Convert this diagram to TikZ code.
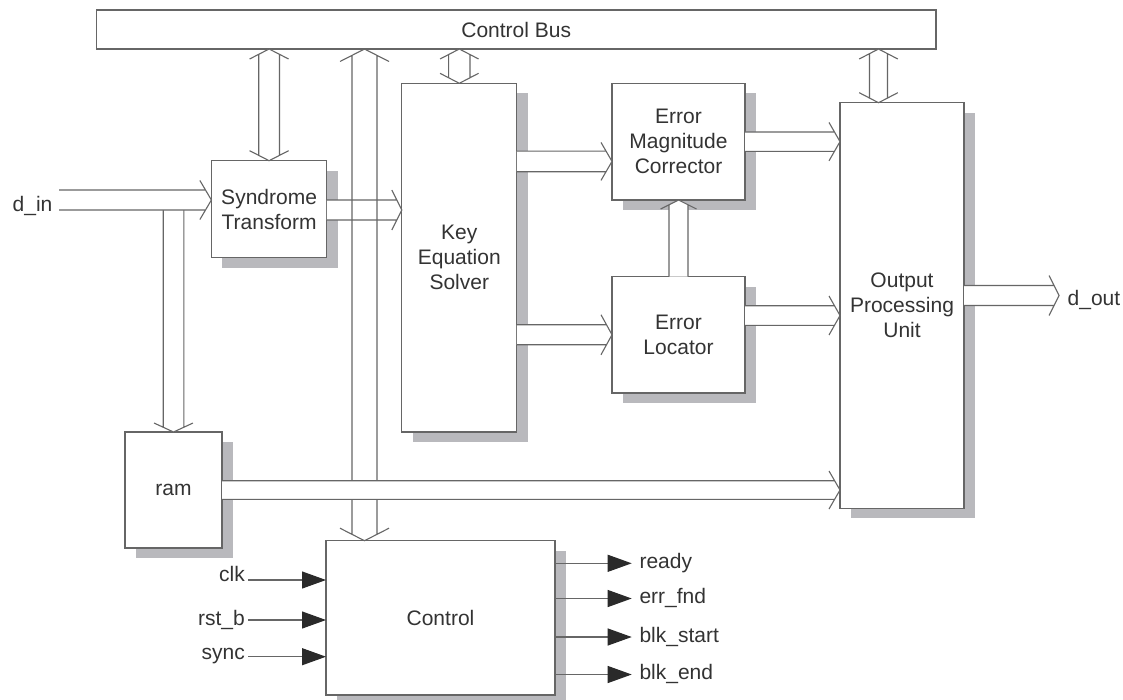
\documentclass[tikz,border=0pt]{standalone}
\usepackage{fontspec}
\setmainfont{Liberation Sans}
\usetikzlibrary{calc,shadows,arrows.meta}
\definecolor{ln}{HTML}{666666}
\definecolor{tx}{HTML}{333333}
\definecolor{sh}{HTML}{B9B9BD}
\definecolor{tri}{HTML}{2A2A2A}
% horizontal fat arrow pointing right: #2 start (x), #3 tip; #4 shaft half, #5 head half, #6 head length
\newcommand{\fatR}[6][fill=white]{%
  \path[#1] let \p1=(#2), \p2=(#3), \n1={#6*#4/#5} in
    (\x1,\y2+#4) -- (\x2-\n1,\y2+#4) -- (\x2,\y2) -- (\x2-\n1,\y2-#4) -- (\x1,\y2-#4) -- cycle;
  \draw[fatline] let \p1=(#2), \p2=(#3), \n1={#6*#4/#5} in
    (\x1,\y2+#4) -- (\x2-\n1,\y2+#4)
    (\x2-#6,\y2+#5) -- (\x2,\y2) -- (\x2-#6,\y2-#5)
    (\x2-\n1,\y2-#4) -- (\x1,\y2-#4);
}
% vertical double-headed fat arrow: #2 top tip (x taken from it), #3 bottom tip
\newcommand{\fatV}[6][fill=white]{%
  \path[#1] let \p1=(#2), \p2=(#3), \n1={#6*#4/#5} in
    (\x1,\y1) -- (\x1+#4,\y1-\n1) -- (\x1+#4,\y2+\n1) -- (\x1,\y2) -- (\x1-#4,\y2+\n1) -- (\x1-#4,\y1-\n1) -- cycle;
  \draw[fatline] let \p1=(#2), \p2=(#3), \n1={#6*#4/#5} in
    (\x1-#5,\y1-#6) -- (\x1,\y1) -- (\x1+#5,\y1-#6)
    (\x1+#4,\y1-\n1) -- (\x1+#4,\y2+\n1)
    (\x1-#5,\y2+#6) -- (\x1,\y2) -- (\x1+#5,\y2+#6)
    (\x1-#4,\y2+\n1) -- (\x1-#4,\y1-\n1);
}
% vertical single fat arrow pointing down: #2 start (top), #3 tip (x from tip)
\newcommand{\fatD}[6][fill=white]{%
  \path[#1] let \p1=(#2), \p2=(#3), \n1={#6*#4/#5} in
    (\x2-#4,\y1) -- (\x2+#4,\y1) -- (\x2+#4,\y2+\n1) -- (\x2,\y2) -- (\x2-#4,\y2+\n1) -- cycle;
  \draw[fatline] let \p1=(#2), \p2=(#3), \n1={#6*#4/#5} in
    (\x2-#4,\y1) -- (\x2-#4,\y2+\n1)
    (\x2+#4,\y1) -- (\x2+#4,\y2+\n1)
    (\x2-#5,\y2+#6) -- (\x2,\y2) -- (\x2+#5,\y2+#6);
}
% vertical single fat arrow pointing up: #2 start (bottom), #3 tip (x from tip)
\newcommand{\fatU}[6][fill=white]{%
  \path[#1] let \p1=(#2), \p2=(#3), \n1={#6*#4/#5} in
    (\x2-#4,\y1) -- (\x2+#4,\y1) -- (\x2+#4,\y2-\n1) -- (\x2,\y2) -- (\x2-#4,\y2-\n1) -- cycle;
  \draw[fatline] let \p1=(#2), \p2=(#3), \n1={#6*#4/#5} in
    (\x2-#4,\y1) -- (\x2-#4,\y2-\n1)
    (\x2+#4,\y1) -- (\x2+#4,\y2-\n1)
    (\x2-#5,\y2-#6) -- (\x2,\y2) -- (\x2+#5,\y2-#6);
}
\begin{document}
\begin{tikzpicture}[x=1pt,y=-1pt,
  blk/.style={draw=ln, line width=1.1pt, fill=white, inner sep=0pt, outer sep=0pt,
    anchor=north west, align=center, text=tx, font=\fontsize{21}{25}\selectfont},
  box/.style={blk, drop shadow={shadow xshift=11pt, shadow yshift=-10pt, fill=sh, opacity=1}},
  fatline/.style={draw=ln, line width=1.1pt, line join=miter},
  lbl/.style={text=tx, font=\fontsize{21}{25}\selectfont, inner sep=0pt},
  sig/.style={draw=ln, line width=1.1pt, -{Triangle[length=24pt, width=17pt, color=tri]}}
]
\fill[white] (0,0) rectangle (1123,699);
\useasboundingbox (0,0) rectangle (1123,699);

% blocks
\node[blk, minimum width=839.6pt, minimum height=39pt] (bus) at (96.4,10) {Control Bus};
\node[box, minimum width=115.4pt, minimum height=97pt] (syn) at (211.4,160.7) {Syndrome\\Transform};
\node[box, minimum width=115pt, minimum height=348.7pt] (kes) at (401.8,83.3) {Key\\Equation\\Solver};
\node[box, minimum width=133pt, minimum height=116.7pt] (emc) at (612,83.3) {Error\\Magnitude\\Corrector};
\node[box, minimum width=133pt, minimum height=116.5pt] (el) at (612,276.5) {Error\\Locator};
\node[box, minimum width=124pt, minimum height=405.6pt] (opu) at (840,102.7) {Output\\Processing\\Unit};
\node[box, minimum width=97pt, minimum height=116pt] (ram) at (125,432) {ram};
\node[box, minimum width=229pt, minimum height=154.3pt] (ctl) at (326,540.7) {Control};

% external data labels
\node[lbl, anchor=base west] (din) at (12.5,211.5) {d\_in};
\coordinate (dinS) at (59,200);
\node[lbl, anchor=base west] (dout) at (1067.5,305) {d\_out};
\coordinate (doutT) at (1059,295.5);

% fat data arrows
\fatD{ram.north |- 0,210}{ram.north}{10.3}{19.5}{9}
\fatR{dinS}{syn.west |- dinS}{10}{19.5}{11.5}
\fatV{bus.south -| syn.north}{syn.north}{10.4}{19.5}{10}
\fatR{syn.east |- 0,210}{kes.west |- 0,210}{10}{20}{10}
\fatV[fill=none]{bus.south -| 364.5,0}{ctl.north -| 364.5,0}{12.5}{24.5}{12.5}
\fatV{bus.south -| kes.north}{kes.north}{10.7}{19.3}{10}
\fatR{kes.east |- 0,161.4}{emc.west |- 0,161.4}{10.3}{19}{11}
\fatR{kes.east |- el.west}{el.west}{10}{20}{11}
\fatU{el.north}{emc.south}{9.5}{18}{9}
\fatR{emc.east}{opu.west |- emc.east}{9.7}{19.2}{11}
\fatR{el.east |- 0,315.5}{opu.west |- 0,315.5}{9.8}{19.5}{11}
\fatV{bus.south -| 878.5,0}{opu.north -| 878.5,0}{9}{19.3}{10}
\fatR{ram.east}{opu.west |- ram.east}{9.3}{19}{11}
\fatR{opu.east |- doutT}{doutT}{10}{20}{10}

% control inputs
\node[lbl, anchor=base east] (clk) at (245,581.7) {clk};
\node[lbl, anchor=base east] (rst) at (245,625) {rst\_b};
\node[lbl, anchor=base east] (sync) at (245,659) {sync};
\draw[sig] ([shift={(3pt,1.7pt)}]clk.base east) -- (ctl.west |- 0,580);
\draw[sig] ([shift={(3pt,5pt)}]rst.base east) -- (ctl.west |- 0,620);
\draw[sig] ([shift={(3pt,2.3pt)}]sync.base east) -- (ctl.west |- 0,656.7);

% control outputs
\node[lbl, anchor=base west] (ready) at (639.3,568.3) {ready};
\node[lbl, anchor=base west] (errfnd) at (639.3,603.5) {err\_fnd};
\node[lbl, anchor=base west] (blkstart) at (639.3,642) {blk\_start};
\node[lbl, anchor=base west] (blkend) at (639.3,679.5) {blk\_end};
\draw[sig] (ctl.east |- 0,563.3) -- ([shift={(-7.6pt,5pt)}]ready.base west);
\draw[sig] (ctl.east |- 0,598.5) -- ([shift={(-7.6pt,5pt)}]errfnd.base west);
\draw[sig] (ctl.east |- 0,637) -- ([shift={(-7.6pt,5pt)}]blkstart.base west);
\draw[sig] (ctl.east |- 0,674.5) -- ([shift={(-7.6pt,5pt)}]blkend.base west);
\end{tikzpicture}
\end{document}
